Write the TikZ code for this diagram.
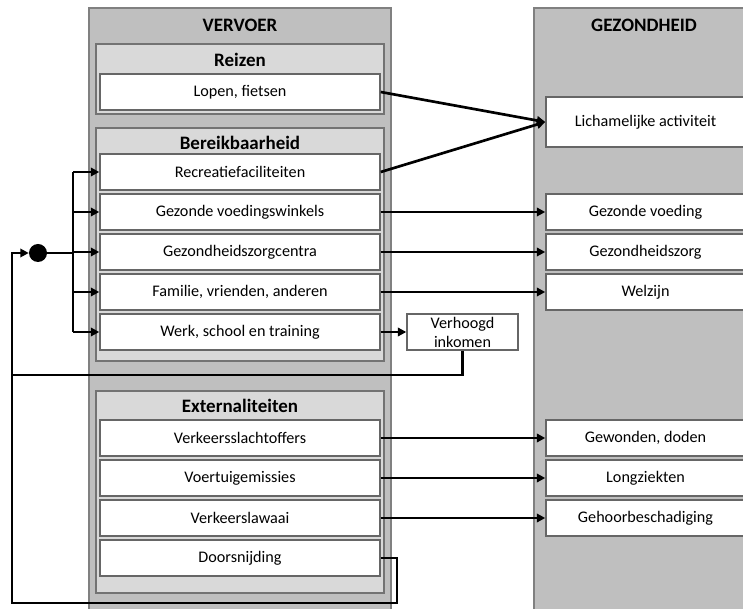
\documentclass[tikz,border=0pt]{standalone}
\usepackage{fontspec}
\setmainfont{Carlito}
\usetikzlibrary{arrows.meta}

\tikzset{
  panel/.style={draw=black!50, fill=black!25, line width=1pt},
  group/.style={draw=black!55, fill=black!15, line width=1pt},
  item/.style={draw=black!60, fill=white, line width=1pt, minimum width=7cm, minimum height=0.9cm, inner sep=1pt, font=\fontsize{11.5}{13}\selectfont},
  outcome/.style={item, minimum width=4.975cm},
  heading/.style={font=\fontsize{13.5}{15}\selectfont\bfseries},
  link/.style={line width=1.9pt},
  arrow/.style={link, -{Triangle[length=6pt,width=6pt]}},
  hubdot/.style={circle, fill=black, minimum size=0.45cm, inner sep=0pt}
}

\begin{document}
\begin{tikzpicture}[x=0.025cm, y=-0.025cm]
  \useasboundingbox (0,0) rectangle (743,609);

  % Panels
  \draw[panel] (89,8) rectangle (391,615);
  \draw[panel] (534,8) rectangle (750,615);
  \node[heading] (vervoer) at (240,25) {VERVOER};
  \node[heading] (gezondheid) at (644,25) {GEZONDHEID};

  % Groups
  \draw[group] (96,44) rectangle (384,114);
  \draw[group] (96,128) rectangle (384,361);
  \draw[group] (96,391) rectangle (384,593);
  \node[heading] (reizen) at (240,60) {Reizen};
  \node[heading] (bereik) at (240,143) {Bereikbaarheid};
  \node[heading] (extern) at (240,406) {Externaliteiten};

  % Transport items
  \node[item] (lopen) at (240,92) {Lopen, fietsen};
  \node[item] (recreatie) at (240,172) {Recreatiefaciliteiten};
  \node[item] (winkels) at (240,212) {Gezonde voedingswinkels};
  \node[item] (zorgcentra) at (240,252) {Gezondheidszorgcentra};
  \node[item] (familie) at (240,292) {Familie, vrienden, anderen};
  \node[item] (werk) at (240,332) {Werk, school en training};
  \node[item] (slachtoffers) at (240,438) {Verkeersslachtoffers};
  \node[item] (emissies) at (240,478) {Voertuigemissies};
  \node[item] (lawaai) at (240,518) {Verkeerslawaai};
  \node[item] (doorsnijding) at (240,558) {Doorsnijding};

  % Health outcomes
  \node[outcome, minimum height=1.25cm] (activiteit) at (645.5,122) {Lichamelijke activiteit};
  \node[outcome] (voeding) at (645.5,212) {Gezonde voeding};
  \node[outcome] (zorg) at (645.5,252) {Gezondheidszorg};
  \node[outcome] (welzijn) at (645.5,292) {Welzijn};
  \node[outcome] (gewonden) at (645.5,438) {Gewonden, doden};
  \node[outcome] (longziekten) at (645.5,478) {Longziekten};
  \node[outcome] (gehoor) at (645.5,518) {Gehoorbeschadiging};

  % Income
  \node[item, minimum width=2.775cm, align=center, inner sep=0pt, font=\fontsize{11.5}{13.5}\selectfont] (inkomen) at (462.5,332) {Verhoogd\\inkomen};

  % Hub and feedback loop
  \node[hubdot] (hub) at (38,253) {};
  \coordinate (bus) at (73,253);
  \coordinate (ret) at (397,603);
  \coordinate (loop) at (12,603);
  \coordinate (join) at (12,375);

  \draw[link] (hub) -- (bus);
  \draw[link] (bus |- recreatie.west) -- (bus |- werk.west);
  \foreach \t in {recreatie, winkels, zorgcentra, familie, werk}
    \draw[arrow] (bus |- \t.west) -- (\t.west);

  \draw[arrow] (lopen.east) -- (activiteit.west);
  \draw[arrow] (recreatie.east) -- (activiteit.west);
  \draw[arrow] (winkels.east) -- (voeding.west);
  \draw[arrow] (zorgcentra.east) -- (zorg.west);
  \draw[arrow] (familie.east) -- (welzijn.west);
  \draw[arrow] (werk.east) -- (inkomen.west);
  \draw[arrow] (slachtoffers.east) -- (gewonden.west);
  \draw[arrow] (emissies.east) -- (longziekten.west);
  \draw[arrow] (lawaai.east) -- (gehoor.west);

  \draw[link] (inkomen.south) |- (join);
  \draw[arrow] (doorsnijding.east) -| (ret) -- (loop) |- (hub.west);
\end{tikzpicture}
\end{document}
